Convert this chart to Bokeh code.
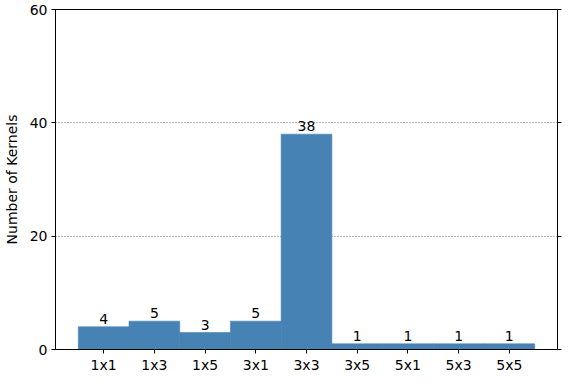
from bokeh.plotting import figure
from bokeh.models import LinearAxis, FixedTicker, Range1d, FactorRange, ColumnDataSource, CustomJSTickFormatter
from bokeh.core.properties import value
from bokeh.embed import file_html
from bokeh.resources import INLINE

categories = ["1x1", "1x3", "1x5", "3x1", "3x3", "3x5", "5x1", "5x3", "5x5"]
counts = [4, 5, 3, 5, 38, 1, 1, 1, 1]
y_ticks = [0, 20, 40, 60]

FONT = "DejaVu Sans"
FS = "14px"
source = ColumnDataSource(dict(cat=categories, count=counts, label=[str(c) for c in counts]))

p = figure(x_range=FactorRange(factors=categories, range_padding=0.1),
           y_range=Range1d(0, 60), width=568, height=385,
           output_backend="svg", toolbar_location=None,
           min_border_left=53, min_border_right=11, min_border_top=9, min_border_bottom=36)

p.vbar(x="cat", top="count", width=1.0, source=source, fill_color="#4682B4",
       line_color="#4682B4", line_width=0.6)
p.text(x="cat", y="count", text="label", source=source, text_align="center",
       text_baseline="bottom", y_offset=-3, text_font=value(FONT),
       text_font_size=FS, text_color="black")

p.outline_line_color = "black"
p.outline_line_width = 1
p.outline_line_alpha = 1
p.background_fill_color = "white"
p.border_fill_color = "white"

p.xgrid.visible = False
p.ygrid.ticker = FixedTicker(ticks=y_ticks)
p.ygrid.grid_line_color = "#707070"
p.ygrid.grid_line_dash = "1 2"
p.ygrid.grid_line_width = 1
p.ygrid.level = "underlay"

ya = p.yaxis[0]
ya.ticker = FixedTicker(ticks=y_ticks)
ya.axis_label = "Number of Kernels"
ya.axis_label_text_font = FONT
ya.axis_label_text_font_size = FS
ya.axis_label_text_font_style = "normal"
ya.axis_label_text_color = "black"
ya.axis_label_standoff = 7
ya.major_label_text_font = FONT
ya.major_label_text_font_size = FS
ya.major_label_text_color = "black"
ya.major_label_standoff = 4
ya.major_tick_out = 4
ya.major_tick_in = 0
ya.minor_tick_out = 0
ya.minor_tick_in = 0
ya.axis_line_color = "black"
ya.major_tick_line_color = "black"

xa = p.xaxis[0]
xa.major_label_text_font = FONT
xa.major_label_text_font_size = FS
xa.major_label_text_color = "black"
xa.major_label_standoff = 3
xa.major_tick_out = 4
xa.major_tick_in = 0
xa.axis_line_color = "black"
xa.major_tick_line_color = "black"
xa.major_label_orientation = "horizontal"

ra = LinearAxis(ticker=FixedTicker(ticks=y_ticks),
                formatter=CustomJSTickFormatter(code="return '';"),
                major_tick_out=4, major_tick_in=0, minor_tick_out=0, minor_tick_in=0,
                axis_line_color="black", major_tick_line_color="black",
                major_label_standoff=0)
p.add_layout(ra, "right")

open("out.html", "w").write(file_html(p, INLINE))
